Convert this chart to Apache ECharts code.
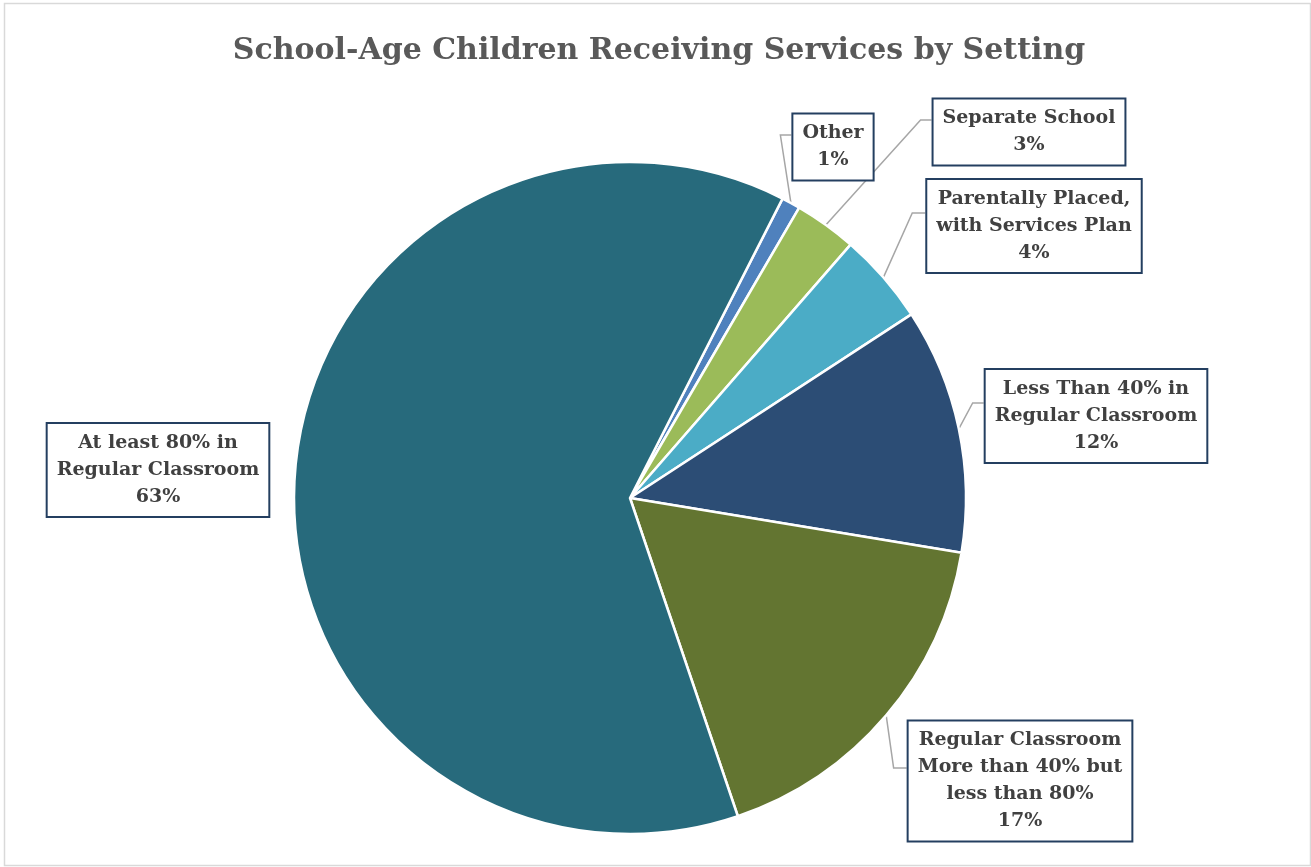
<!DOCTYPE html>
<html><head><meta charset="utf-8">
<script src="https://cdn.jsdelivr.net/npm/echarts@6/dist/echarts.min.js"></script>
<style>html,body{margin:0;padding:0;background:#fff}#c{width:1311px;height:867px}</style>
</head><body><div id="c"></div>
<script>
// ---- data ----
const titleText = 'School-Age Children Receiving Services by Setting';
const categories = [
  'Other',
  'Separate School',
  'Parentally Placed,\nwith Services Plan',
  'Less Than 40% in\nRegular Classroom',
  'Regular Classroom\nMore than 40% but\nless than 80%',
  'At least 80% in\nRegular Classroom'
];
const values = [0.9, 3.0, 4.4, 11.8, 17.2, 62.7];
const colors = ['#4F81BD', '#9BBB59', '#4BACC6', '#2C4D75', '#637531', '#276A7C'];

// ---- label placement (layout only) ----
const labelCenters = [[833, 147], [1029, 132], [1034, 226], [1096, 416], [1020, 781], [158, 470]];
const elbowYs = [135, 120, 213, 403, 768, null];
const elbowGap = [11, 11, 13, 11, 13, 0];

const chart = echarts.init(document.getElementById('c'), null, {renderer: 'canvas'});

const data = categories.map((c, i) => ({
  name: c,
  value: values[i],
  itemStyle: {color: colors[i]},
  labelLine: {show: i !== 5}
}));

chart.setOption({
  animation: false,
  backgroundColor: '#fff',
  title: {
    text: titleText,
    left: 654,
    textAlign: 'center',
    top: 31,
    textStyle: {fontFamily: 'DejaVu Serif', fontWeight: 'bold', fontSize: 30, color: '#595959'}
  },
  graphic: [{
    type: 'rect',
    shape: {x: 4.5, y: 3.5, width: 1306, height: 862},
    style: {fill: null, stroke: '#D9D9D9', lineWidth: 1.5},
    silent: true
  }],
  series: [{
    type: 'pie',
    center: [630, 498],
    radius: 336,
    startAngle: 63,
    clockwise: true,
    avoidLabelOverlap: false,
    minShowLabelAngle: 0,
    itemStyle: {borderColor: '#fff', borderWidth: 2.5},
    label: {
      show: true,
      position: 'outside',
      formatter: p => p.name + '\n' + Math.round(p.percent) + '%',
      fontFamily: 'DejaVu Serif',
      fontWeight: 'bold',
      fontSize: 19,
      lineHeight: 27,
      color: '#404040',
      align: 'center',
      backgroundColor: '#fff',
      borderColor: '#243F60',
      borderWidth: 2,
      padding: [6, 9, 5, 9]
    },
    labelLine: {show: true, length: 10, length2: 10, smooth: false,
      lineStyle: {color: '#A6A6A6', width: 1.5}},
    labelLayout: function (params) {
      const i = params.dataIndex;
      const c = labelCenters[i];
      const res = {x: c[0], y: c[1], align: 'center', verticalAlign: 'middle'};
      if (elbowYs[i] != null && params.labelLinePoints) {
        const w = params.labelRect.width;
        const left = c[0] - w / 2;
        const start = params.labelLinePoints[0];
        res.labelLinePoints = [
          [start[0], start[1]],
          [left - elbowGap[i], elbowYs[i]],
          [left, elbowYs[i]]
        ];
      }
      return res;
    },
    data: data
  }]
});
</script>
</body></html>
